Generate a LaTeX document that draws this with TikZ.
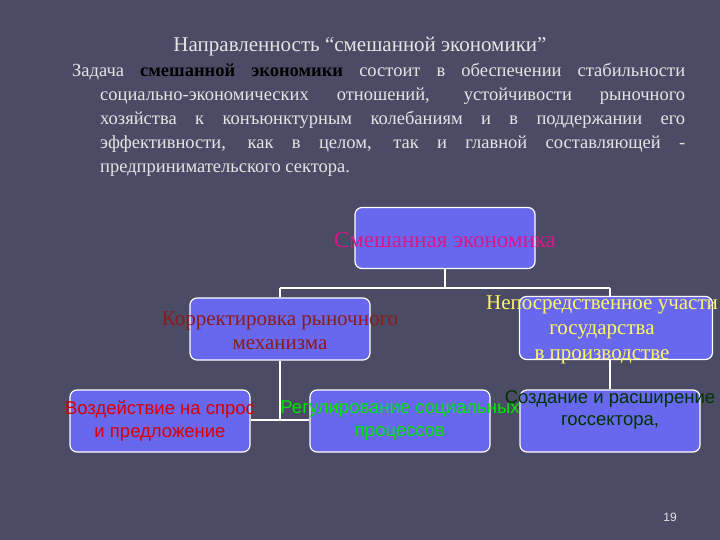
\documentclass[tikz,border=0pt]{standalone}
\usepackage{fontspec}
\setmainfont{Liberation Serif}
\newfontfamily\arialf{Liberation Sans}
\begin{document}
\begin{tikzpicture}[x=1pt,y=-1pt,
  box/.style={draw=white,line width=1.2pt,fill=boxblue,rounded corners=7pt},
  conn/.style={draw=white,line width=1.5pt},
  lbl/.style={align=center,inner sep=0pt,font=\fontsize{21}{24}\selectfont}]
\definecolor{bgc}{HTML}{4B4B66}
\definecolor{boxblue}{HTML}{6868EE}
\definecolor{txt}{HTML}{E4E4E4}
\definecolor{dred}{HTML}{8B1A1A}
\fill[bgc] (0,0) rectangle (720,540);
\useasboundingbox (0,0) rectangle (720,540);
\node[txt,font=\fontsize{21}{24}\selectfont] (title) at (360,47) {Направленность “смешанной экономики”};
\node[anchor=north west,inner sep=0pt,txt,font=\fontsize{18.5}{24}\selectfont] (para) at (72,63) {\parbox[t]{613pt}{\hangindent=28pt\hangafter=1
Задача {\bfseries\color{black}смешанной экономики} состоит в обеспечении стабильности\linebreak
социально-экономических отношений, устойчивости рыночного\linebreak
хозяйства к конъюнктурным колебаниям и в поддержании его\linebreak
эффективности, как в целом, так и главной составляющей -\linebreak
предпринимательского сектора.}};
\node[box,minimum width=180,minimum height=61] (top) at (445,238) {};
\node[box,minimum width=180,minimum height=62] (left) at (280,329) {};
\node[box,minimum width=193,minimum height=63] (right) at (616,328) {};
\node[box,minimum width=180,minimum height=62] (b1) at (160,421) {};
\node[box,minimum width=180,minimum height=62] (b2) at (400,421) {};
\node[box,minimum width=180,minimum height=62] (b3) at (610,421) {};
\coordinate (j) at (445,288);
\draw[conn] (top.south) -- (j);
\draw[conn] (280,288) -- (610,288);
\draw[conn] (280,288) -- (left.north);
\draw[conn] (610,288) -- (610,297);
\draw[conn] (left.south) -- (280,420);
\draw[conn] (b1.east |- 0,420) -- (b2.west |- 0,420);
\draw[conn] (610,360) -- (b3.north);
\node[lbl,text=magenta!80!violet,font=\fontsize{23}{26}\selectfont] (tl) at (445,240) {Смешанная экономика};
\node[lbl,text=dred] (ll) at (280,331) {Корректировка рыночного\\механизма};
\node[lbl,text=yellow!60!white,font=\fontsize{21}{25}\selectfont] (rl) at (602,330) {Непосредственное участи\\государства\\в производстве};
\node[lbl,text=red!85!black,font=\arialf\fontsize{18.5}{23}\selectfont] (l1) at (160,421) {Воздействие на спрос\\и предложение};
\node[lbl,text=green!90!black,font=\arialf\fontsize{18.5}{23}\selectfont] (l2) at (400,421) {Регулирование социальных\\процессов};
\node[lbl,text=black!80!green,font=\arialf\fontsize{18.5}{22}\selectfont] (l3) at (610,410) {Создание и расширение\\госсектора,};
\node[txt,font=\arialf\fontsize{12}{13}\selectfont] (pg) at (670,517) {19};
\end{tikzpicture}
\end{document}
